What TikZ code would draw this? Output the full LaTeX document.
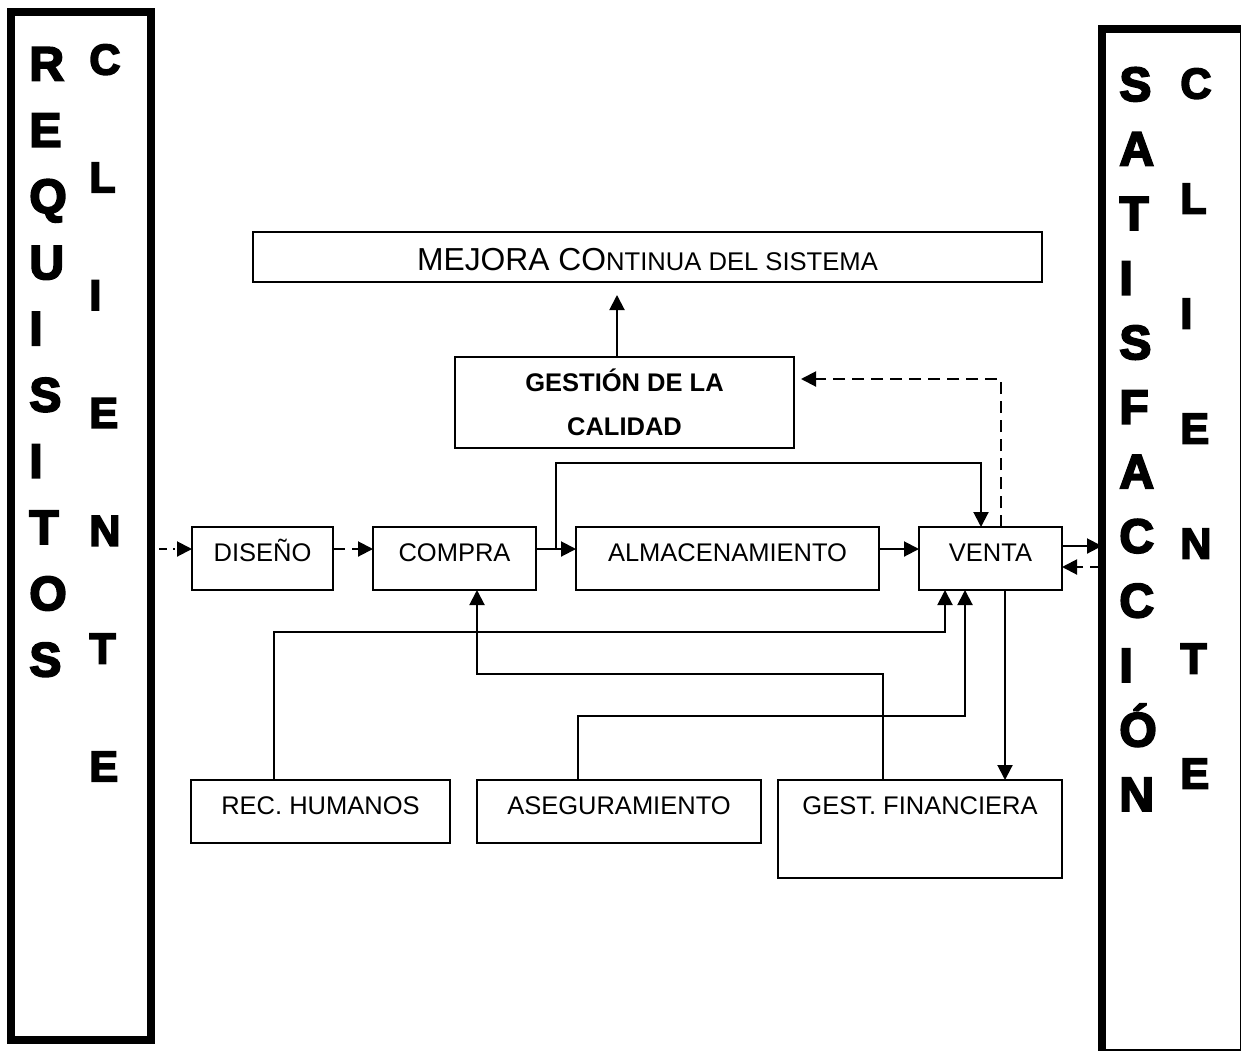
\documentclass[tikz,border=0pt]{standalone}
\usepackage{fontspec}
\setmainfont{Liberation Sans}
\newfontfamily\heavyfont{Liberation Sans}[FakeBold=4]
\usetikzlibrary{arrows.meta}
\usetikzlibrary{calc,positioning}

\begin{document}
\begin{tikzpicture}[x=0.5pt, y=-0.5pt,
        box/.style={rectangle, draw=black, line width=1pt, inner sep=0pt, outer sep=0pt,
        text=black, font=\fontsize{12.75}{22}\selectfont},
        rowbox/.style={box, text height=17pt, text depth=14.5pt},
        frame/.style={rectangle, draw=black, line width=4pt, inner sep=0pt, outer sep=0pt},
        letters/.style={inner sep=0pt, align=left, anchor=north west, text=black},
        flow/.style={line width=1pt, -{Triangle[length=7.5pt, width=7.5pt]}},
        dashline/.style={dash pattern=on 6pt off 3.5pt}]
        \useasboundingbox (0,0) rectangle (1241,1050);

        % marcos de los clientes
        \node (reqbox) [frame, minimum width=70pt, minimum height=514.25pt] at (81,525.75) {};
        \node (satbox) [frame, minimum width=71pt, minimum height=512.25pt] at (1173,540.75) {};

        \node (requisitos) [letters, font=\heavyfont\bfseries\fontsize{24}{33.1}\selectfont] at (29,47)
        {R\\E\\Q\\U\\I\\S\\I\\T\\O\\S};
        \node (clienteizq) [letters, font=\heavyfont\bfseries\fontsize{21.5}{58.9}\selectfont] at (89,44)
        {C\\L\\I\\E\\N\\T\\E};
        \node (satisfaccion) [letters, font=\heavyfont\bfseries\fontsize{24}{32.27}\selectfont] at (1119,67)
        {S\\A\\T\\I\\S\\F\\A\\C\\C\\I\\Ó\\N};
        \node (clienteder) [letters, font=\heavyfont\bfseries\fontsize{21.5}{57.5}\selectfont] at (1180,68)
        {C\\L\\I\\E\\N\\T\\E};

        % procesos
        \node (diseno) [rowbox, minimum width=70.5pt, anchor=north west] at (192,527) {DISEÑO};
        \node (compra) [rowbox, minimum width=81.5pt, right=20pt of diseno] {COMPRA};
        \node (almacen) [rowbox, minimum width=151.5pt, right=20pt of compra] {ALMACENAMIENTO};
        \node (venta) [rowbox, minimum width=71.5pt, right=20pt of almacen] {VENTA};

        \node (gestion) [box, minimum width=169.5pt, minimum height=45.5pt, align=center,
        font=\bfseries\fontsize{12.75}{22}\selectfont, anchor=north west] at (455,357)
        {GESTIÓN DE LA\\CALIDAD};
        \node (mejora) [box, minimum width=394.5pt, text height=19pt, text depth=6pt, anchor=north west] at (253,232)
        {\fontsize{15.9}{18}\selectfont MEJORA CO\fontsize{12.8}{15}\selectfont NTINUA DEL SISTEMA};

        \node (rechum) [rowbox, minimum width=129.5pt, anchor=north west] at (191,780) {REC. HUMANOS};
        \node (asegur) [rowbox, minimum width=142pt, right=13.5pt of rechum] {ASEGURAMIENTO};
        \node (gestfin) [rowbox, text depth=32pt, minimum width=142pt, right=8.5pt of asegur.north east,
        anchor=north west] {GEST. FINANCIERA};

        % conexiones
        \coordinate (fila) at ([yshift=4.75pt]diseno.west);
        \coordinate (cruce) at ($(compra.east |- fila)!.5!(almacen.west |- fila)$);
        \coordinate (ventasale) at ([yshift=6.25pt]venta.east);
        \coordinate (ventaentra) at ([yshift=-4.25pt]venta.east);
        \coordinate (ventabaja) at ([xshift=7.25pt]venta.south);

        \draw[flow, dash pattern=on 1pt off 3pt on 4pt off 3pt] (reqbox.east |- fila) -- (diseno.west |- fila);
        \draw[flow, dashline] (diseno.east |- fila) -- (compra.west |- fila);
        \draw[flow] (compra.east |- fila) -- (almacen.west |- fila);
        \draw[flow] (almacen.east |- fila) -- (venta.west |- fila);
        \draw[flow] (cruce) -- ++(0,-86) -| ([xshift=-4.75pt]venta.north);
        \draw[flow, dashline] ([xshift=5.25pt]venta.north) |- ([xshift=3.5pt, yshift=11.75pt]gestion.east);
        \draw[flow, shorten >=6.5pt] ([xshift=-3.75pt]gestion.north) -- ([xshift=-3.75pt]gestion.north |- mejora.south);
        \draw[flow] (ventasale) -- (ventasale -| satbox.west);
        \draw[flow, dashline] (ventaentra -| satbox.west) -- (ventaentra);

        \draw[flow] ([xshift=-23.5pt]rechum.north) -- ++(0,-148) -| ([xshift=-22.75pt]venta.south);
        \draw[flow] ([xshift=-20.5pt]asegur.north) -- ++(0,-64) -| ([xshift=-12.75pt]venta.south);
        \draw[flow] ([xshift=-18.5pt]gestfin.north) -- ++(0,-106) -| ([xshift=11.25pt]compra.south);
        \draw[flow] (ventabaja) -- (ventabaja |- gestfin.north);
\end{tikzpicture}
\end{document}
